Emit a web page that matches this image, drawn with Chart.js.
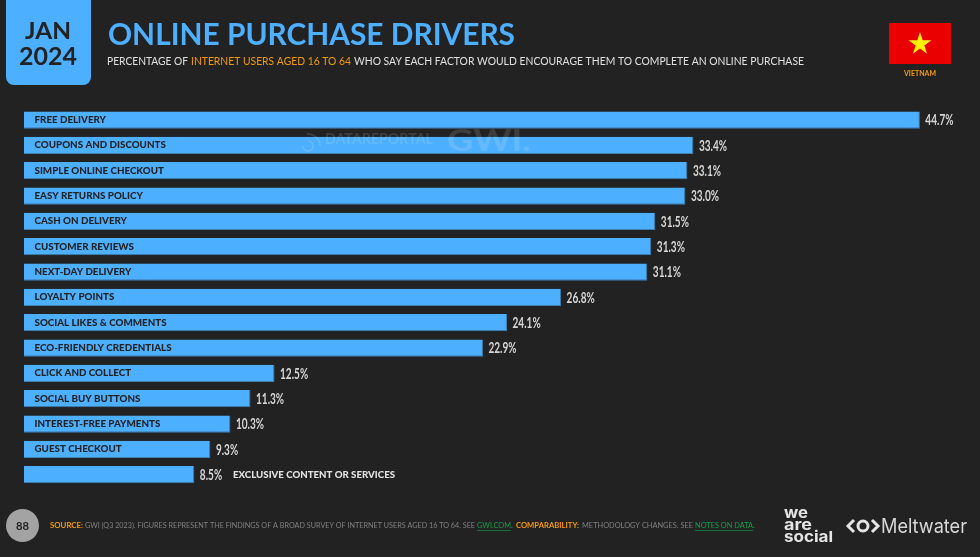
<!DOCTYPE html>
<html>
<head>
<meta charset="utf-8">
<title>Online purchase drivers</title>
<script src="https://cdn.jsdelivr.net/npm/chart.js@4"></script>
<style>
html, body { margin: 0; padding: 0; background: #222222; }
#wrap { position: relative; width: 980px; height: 557px; overflow: hidden; }
</style>
</head>
<body>
<div id="wrap"><canvas id="driversChart" width="980" height="557"></canvas></div>
<script>
const categories = ['FREE DELIVERY', 'COUPONS AND DISCOUNTS', 'SIMPLE ONLINE CHECKOUT', 'EASY RETURNS POLICY',
    'CASH ON DELIVERY', 'CUSTOMER REVIEWS', 'NEXT-DAY DELIVERY', 'LOYALTY POINTS', 'SOCIAL LIKES & COMMENTS',
    'ECO-FRIENDLY CREDENTIALS', 'CLICK AND COLLECT', 'SOCIAL BUY BUTTONS', 'INTEREST-FREE PAYMENTS',
    'GUEST CHECKOUT', 'EXCLUSIVE CONTENT OR SERVICES'];
const values = [44.7, 33.4, 33.1, 33.0, 31.5, 31.3, 31.1, 26.8, 24.1, 22.9, 12.5, 11.3, 10.3, 9.3, 8.5];
const outsideLabels = ['EXCLUSIVE CONTENT OR SERVICES'];

const BLUE = '#4DAFFF', BG = '#222222', ORANGE = '#F59B00', GREEN = '#12A24B';
const FONT = 'Lato, "Open Sans", sans-serif';

// text squeezed to a known width, the original font is wider/narrower than what we have
function put(ctx, str, x, y, font, color, width, align) {
    ctx.save();
    ctx.font = font;
    ctx.fillStyle = color;
    ctx.textBaseline = 'middle';
    ctx.textAlign = 'left';
    const w = ctx.measureText(str).width;
    const sx = width ? width / w : 1;
    const real = w * sx;
    let left = x;
    if (align === 'center') left = x - real / 2;
    if (align === 'right') left = x - real;
    ctx.translate(left, y);
    ctx.scale(sx, 1);
    ctx.fillText(str, 0, 0);
    ctx.restore();
}

// same thing but with a constant stretch, for the bar labels
function putStretched(ctx, str, x, y, font, color, stretch) {
    ctx.save();
    ctx.font = font;
    const w = ctx.measureText(str).width;
    ctx.restore();
    put(ctx, str, x, y, font, color, w * stretch);
}

function drawHeader(ctx) {
    // date badge
    ctx.fillStyle = BLUE;
    ctx.beginPath();
    ctx.roundRect(6, -12, 85, 97, 8);
    ctx.fill();
    put(ctx, 'JAN', 48, 32, 'bold 22px ' + FONT, '#222222', 46, 'center');
    put(ctx, '2024', 48, 57, 'bold 24px ' + FONT, '#222222', 58, 'center');

    put(ctx, 'ONLINE PURCHASE DRIVERS', 108, 35, 'bold 31px ' + FONT, BLUE, 407);

    put(ctx, 'PERCENTAGE OF', 107, 61, '11px ' + FONT, '#E0E0E0', 81);
    put(ctx, 'INTERNET USERS AGED 16 TO 64', 191, 61, '11px ' + FONT, ORANGE, 160);
    put(ctx, 'WHO SAY EACH FACTOR WOULD ENCOURAGE THEM TO COMPLETE AN ONLINE PURCHASE', 354, 61, '11px ' + FONT, '#E0E0E0', 450);

    // flag
    ctx.fillStyle = '#EA0000';
    ctx.fillRect(889, 23, 62, 41);
    ctx.fillStyle = '#FFF200';
    ctx.beginPath();
    for (let i = 0; i < 10; i++) {
        const r = i % 2 ? 4.6 : 12;
        const a = -Math.PI / 2 + i * Math.PI / 5;
        ctx.lineTo(920 + r * Math.cos(a), 44 + r * Math.sin(a));
    }
    ctx.closePath();
    ctx.fill();
    put(ctx, 'VIETNAM', 920, 74, 'bold 7px ' + FONT, ORANGE, 32, 'center');
}

function drawFooter(ctx) {
    ctx.fillStyle = '#A3A3A3';
    ctx.beginPath();
    ctx.arc(22.5, 525.5, 16.5, 0, Math.PI * 2);
    ctx.fill();
    put(ctx, '88', 22.5, 526, 'bold 11px ' + FONT, '#222222', 13, 'center');

    const y = 525;
    put(ctx, 'SOURCE:', 50, y, 'bold 8px ' + FONT, ORANGE, 33);
    put(ctx, 'GWI (Q3 2023). FIGURES REPRESENT THE FINDINGS OF A BROAD SURVEY OF INTERNET USERS AGED 16 TO 64. SEE', 85, y, '8px ' + FONT, '#808080', 390);
    put(ctx, 'GWI.COM', 477, y, '8px ' + FONT, GREEN, 34);
    put(ctx, '.', 511, y, '8px ' + FONT, '#808080');
    put(ctx, 'COMPARABILITY:', 516, y, 'bold 8px ' + FONT, ORANGE, 63);
    put(ctx, 'METHODOLOGY CHANGES. SEE', 582, y, '8px ' + FONT, '#808080', 111);
    put(ctx, 'NOTES ON DATA', 695, y, '8px ' + FONT, GREEN, 58);
    put(ctx, '.', 753, y, '8px ' + FONT, '#808080');
    ctx.fillStyle = GREEN;
    ctx.fillRect(477, 530, 34, 0.6);
    ctx.fillRect(695, 530, 58, 0.6);

    put(ctx, 'we', 784, 513, 'bold 15px Inter, ' + FONT, '#E4E4E4', 24);
    put(ctx, 'are', 784, 525, 'bold 15px Inter, ' + FONT, '#E4E4E4', 28);
    put(ctx, 'social', 784, 537, 'bold 15px Inter, ' + FONT, '#E4E4E4', 49);

    // meltwater mark
    ctx.save();
    ctx.strokeStyle = '#E4E4E4';
    ctx.lineWidth = 3;
    ctx.beginPath();
    ctx.moveTo(854, 520); ctx.lineTo(848, 526); ctx.lineTo(854, 532);
    ctx.moveTo(872, 520); ctx.lineTo(878, 526); ctx.lineTo(872, 532);
    ctx.stroke();
    ctx.beginPath();
    ctx.arc(863, 526, 5, 0, Math.PI * 2);
    ctx.stroke();
    ctx.restore();
    put(ctx, 'Meltwater', 881, 526.5, '20px Inter, ' + FONT, '#D8D8D8', 86);
}

function drawWatermark(ctx) {
    ctx.save();
    ctx.globalAlpha = 0.13;
    put(ctx, 'DATAREPORTAL', 325, 139, 'bold 15px ' + FONT, '#FFFFFF', 108);
    put(ctx, 'GWI.', 447, 141, 'bold 30px ' + FONT, '#FFFFFF', 84);
    ctx.strokeStyle = '#FFFFFF';
    ctx.lineWidth = 2;
    ctx.beginPath();
    ctx.arc(308, 146, 5, -Math.PI / 2, Math.PI);
    ctx.moveTo(308, 133);
    ctx.arc(308, 146, 12, -Math.PI / 2, 0);
    ctx.stroke();
    ctx.restore();
}

const sheet = {
    id: 'sheet',
    beforeDraw(chart) {
        const ctx = chart.ctx;
        ctx.fillStyle = BG;
        ctx.fillRect(0, 0, chart.width, chart.height);
        drawHeader(ctx);
        drawFooter(ctx);
    },
    afterDatasetsDraw(chart) {
        const ctx = chart.ctx;
        chart.getDatasetMeta(0).data.forEach(function (bar, i) {
            putStretched(ctx, values[i].toFixed(1) + '%', bar.x + 5.5, bar.y + 0.5,
                'bold 15px "Liberation Sans Narrow", ' + FONT, '#D6D6D6', 0.67);
            if (outsideLabels.includes(categories[i])) {
                put(ctx, categories[i], 233, bar.y, '900 9px ' + FONT, '#E2E2E2', 162);
            } else {
                putStretched(ctx, categories[i], 34.5, bar.y, '900 9.5px ' + FONT, '#222222', 1.03);
            }
        });
        drawWatermark(ctx);
    }
};

new Chart(document.getElementById('driversChart').getContext('2d'), {
    type: 'bar',
    data: {
        labels: categories,
        datasets: [{
            data: values,
            backgroundColor: BLUE,
            borderColor: '#3F80B5',
            borderWidth: { right: 1, bottom: 1, top: 0, left: 0 },
            borderSkipped: false,
            categoryPercentage: 1,
            barPercentage: 0.68
        }]
    },
    options: {
        indexAxis: 'y',
        responsive: false,
        animation: false,
        layout: { padding: { left: 24, right: 0, top: 107.4, bottom: 69.6 } },
        plugins: { legend: { display: false }, tooltip: { enabled: false } },
        scales: {
            x: { display: false, min: 0, max: 47.7 },
            y: { display: false }
        }
    },
    plugins: [sheet]
});
</script>
</body>
</html>
